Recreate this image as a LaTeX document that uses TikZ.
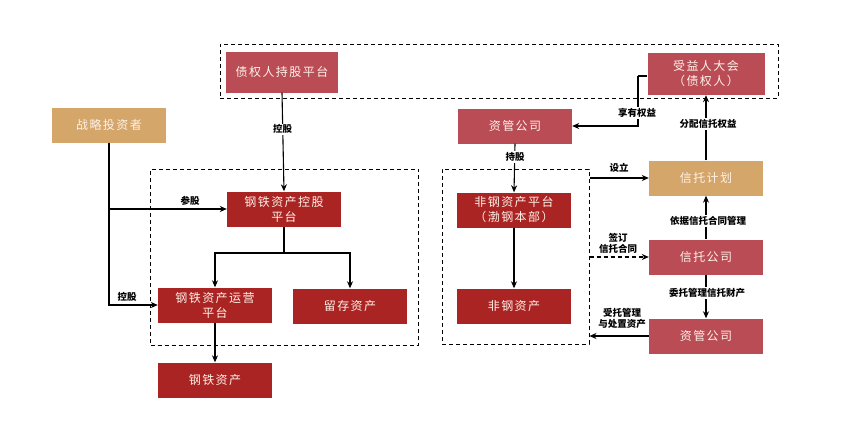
\documentclass[tikz,border=0pt]{standalone}
\usepackage{fontspec}
\newfontfamily\cjk{Noto Sans CJK SC}
\newfontfamily\cjkwide[LetterSpace=12]{Noto Sans CJK SC}
\usetikzlibrary{arrows.meta}

\definecolor{steelred}{RGB}{170,36,36}    % dark red boxes
\definecolor{rosered}{RGB}{186,76,86}     % muted rose boxes
\definecolor{tanbox}{RGB}{213,166,106}    % investor / plan boxes
\definecolor{boxtext}{RGB}{255,242,232}

\begin{document}
\begin{tikzpicture}[x=1pt, y=-1pt,
  box/.style={minimum width=114pt, minimum height=35pt, inner sep=1pt,
              text=boxtext, align=center, font=\cjkwide\fontsize{12}{15}\selectfont},
  darkbox/.style={box, fill=steelred},
  rosebox/.style={box, fill=rosered},
  sandbox/.style={box, fill=tanbox},
  lbl/.style={font=\cjk\bfseries\fontsize{9.5}{11}\selectfont, inner sep=1pt, align=center},
  conn/.style={line width=1.1pt, -{Stealth[length=7pt, width=6pt]}},
  line/.style={line width=1.1pt},
  dashbox/.style={draw, line width=1pt, dash pattern=on 4pt off 3pt}]

\useasboundingbox (0,0) rectangle (854,424);

%─────────────
% Dashed groups
%─────────────
\node[dashbox, minimum width=558pt, minimum height=54pt] (holders) at (499,71) {};
\node[dashbox, minimum width=268pt, minimum height=176pt] (steelgrp) at (284.5,257) {};
\node[dashbox, minimum width=147pt, minimum height=175pt] (nonsteelgrp) at (515.5,256.5) {};

%─────────────
% Left side: steel assets
%─────────────
\node[rosebox, minimum width=112pt, minimum height=41pt] (creditors) at (282,72) {债权人持股平台};
\node[sandbox, minimum height=35pt] (investor) at (109,125) {战略投资者};
\node[darkbox] (holding) at (284,209) {钢铁资产控股\\平台};
\node[darkbox] (operating) at (215,305) {钢铁资产运营\\平台};
\node[darkbox] (retained) at (350,306) {留存资产};
\node[darkbox] (steel) at (215,380) {钢铁资产};

\draw[conn] (creditors.south) -- (holding.north)
  node[lbl, fill=white, pos=0.37] (lblctrl) {控股};
\draw[conn] (investor.south) |- (holding.west);
\node[lbl] (lbljoin) at (190,201) {参股};
\draw[conn] (investor.south) |- (operating.west);
\node[lbl] (lblctrlb) at (127,297) {控股};

\coordinate (split) at (284,253);
\draw[line] (holding.south) -- (split);
\draw[conn] (split) -| (operating.north);
\draw[conn] (split) -| (retained.north);
\draw[conn] (operating.south) -- (steel.north);

%─────────────
% Right side: non-steel assets and trust
%─────────────
\node[rosebox, minimum width=117pt, minimum height=42pt] (assembly) at (706,74) {受益人大会\\（债权人）};
\node[rosebox] (amctop) at (515,126) {资管公司};
\node[darkbox] (platform) at (514,210) {非钢资产平台\\（渤钢本部）};
\node[darkbox] (nonsteel) at (514,306) {非钢资产};
\node[sandbox] (plan) at (706,178) {信托计划};
\node[rosebox] (trustco) at (706,257) {信托公司};
\node[rosebox] (amcbot) at (706,336) {资管公司};

\coordinate (bend) at (638,76);
\draw[line] (assembly.west |- bend) -- (bend);
\draw[conn] (bend) |- (amctop.east);
\node[lbl, fill=white] (lblshare) at (637,113) {享有权益};

\draw[conn] (plan.north) -- (assembly.south);
\node[lbl, fill=white] (lbldist) at (708,124) {分配信托权益};

\draw[conn] (amctop.south) -- (platform.north);
\node[lbl, fill=white] (lblhold) at (515,157) {持股};
\draw[conn] (platform.south) -- (nonsteel.north);

\draw[conn] (nonsteelgrp.east |- plan.west) -- (plan.west);
\node[lbl] (lblset) at (619,168) {设立};

\draw[conn] (trustco.north) -- (plan.south);
\node[lbl, fill=white] (lblmanage) at (708,221) {依据信托合同管理};

\draw[conn, dash pattern=on 4pt off 3pt] (nonsteelgrp.east |- trustco.west) -- (trustco.west);
\node[lbl] (lblsign) at (618,243) {签订\\信托合同};

\draw[conn] (trustco.south) -- (amcbot.north);
\node[lbl, fill=white] (lblentrust) at (707,293) {委托管理信托财产};

\draw[conn] (amcbot.west) -- (nonsteelgrp.east |- amcbot.west);
\node[lbl] (lbldispose) at (622,318) {受托管理\\与处置资产};

\end{tikzpicture}
\end{document}
